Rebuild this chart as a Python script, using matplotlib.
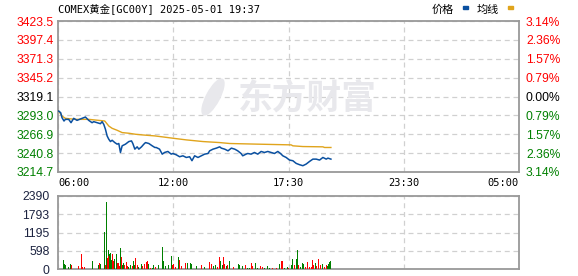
import numpy as np
import matplotlib
matplotlib.use("Agg")
import matplotlib.pyplot as plt
from matplotlib.patches import Rectangle, Ellipse

# price (minutes after 06:00)
price_min = [0, 2, 8, 12, 18, 22, 32, 39, 47, 57,
             72, 82, 92, 102, 107, 117, 127, 132, 137, 142,
             147, 152, 157, 162, 170, 177, 182, 187, 192, 202,
             212, 220, 224, 230, 237, 242, 250, 257, 262, 272,
             282, 290, 294, 304, 312, 319, 329, 339, 344, 354,
             364, 374, 384, 394, 401, 409, 419, 429, 439, 449,
             454, 464, 474, 484, 489, 499, 509, 519, 529, 538,
             548, 553, 563, 568, 578, 588, 598, 608, 618, 628,
             638, 648, 658, 666, 673, 683, 693, 703, 713, 723,
             733, 743, 753, 763, 773, 783, 793, 803, 808, 817]
price = [3299.0, 3299.0, 3296.7, 3289.8, 3285.2, 3287.5, 3287.5, 3282.9, 3288.9, 3286.1,
         3288.9, 3290.7, 3286.1, 3282.9, 3284.3, 3282.9, 3281.5, 3284.3, 3280.6, 3273.8,
         3264.6, 3260.0, 3256.8, 3258.6, 3255.4, 3253.2, 3254.1, 3241.7, 3250.9, 3253.2,
         3256.8, 3257.7, 3254.1, 3246.3, 3249.5, 3246.3, 3249.5, 3253.2, 3255.4, 3254.1,
         3250.9, 3248.6, 3248.6, 3246.3, 3239.4, 3241.7, 3243.1, 3239.4, 3240.3, 3238.5,
         3235.8, 3237.1, 3234.8, 3235.8, 3230.3, 3237.1, 3234.8, 3237.1, 3239.4, 3240.3,
         3244.0, 3246.3, 3247.7, 3249.5, 3247.7, 3246.3, 3244.0, 3247.7, 3246.3, 3244.0,
         3240.3, 3237.1, 3239.4, 3240.3, 3239.4, 3241.7, 3239.4, 3243.1, 3241.7, 3243.1,
         3241.7, 3240.3, 3243.1, 3240.3, 3237.1, 3234.8, 3231.2, 3230.3, 3226.6, 3224.8,
         3223.4, 3225.7, 3229.3, 3232.5, 3232.5, 3231.2, 3234.8, 3232.5, 3233.9, 3232.5]

# average line
avg_min = [0, 2, 12, 22, 52, 92, 122, 140, 152, 162,
           177, 192, 212, 232, 252, 290, 314, 344, 384, 434,
           484, 514, 598, 698, 703, 733, 793, 798, 817]
avg = [3299.0, 3299.0, 3292.1, 3288.9, 3287.5, 3287.5, 3286.1, 3285.2, 3278.3, 3275.1,
       3272.4, 3269.2, 3268.3, 3266.9, 3266.0, 3264.6, 3263.2, 3261.4, 3259.1, 3256.8,
       3255.4, 3254.1, 3253.2, 3252.2, 3250.9, 3249.9, 3249.5, 3248.6, 3248.6]

# volume
vol_min = [12, 16, 20, 22, 32, 37, 40, 62, 70, 74,
           80, 102, 122, 125, 128, 140, 142, 145, 147, 150,
           152, 155, 158, 161, 164, 167, 170, 174, 177, 180,
           184, 187, 190, 194, 197, 200, 204, 207, 212, 217,
           222, 227, 230, 232, 237, 242, 250, 254, 260, 264,
           267, 272, 277, 282, 287, 292, 302, 312, 315, 322,
           330, 340, 344, 347, 352, 360, 364, 370, 377, 382,
           387, 392, 397, 400, 404, 410, 414, 422, 429, 439,
           446, 449, 454, 459, 466, 471, 477, 484, 487, 492,
           496, 499, 504, 508, 513, 518, 526, 533, 540, 543,
           548, 553, 560, 566, 573, 578, 583, 591, 598, 606,
           611, 618, 626, 633, 643, 653, 663, 668, 672, 678,
           686, 691, 698, 703, 708, 713, 716, 720, 726, 733,
           736, 741, 748, 753, 758, 763, 766, 770, 775, 781,
           785, 793, 798, 803, 808, 811, 813, 816]
vol = [356, 302, 162, 140, 65, 173, 140, 108, 486, 65,
       65, 248, 140, 194, 151, 1199, 140, 2203, 356, 626,
       432, 486, 540, 302, 486, 248, 324, 486, 194, 194,
       108, 680, 378, 140, 194, 119, 227, 86, 65, 140,
       86, 248, 140, 356, 140, 65, 162, 108, 173, 227,
       270, 162, 32, 32, 140, 65, 140, 734, 248, 86,
       140, 410, 140, 173, 65, 389, 302, 86, 65, 194,
       194, 194, 194, 162, 486, 86, 86, 140, 140, 65,
       119, 140, 227, 173, 86, 140, 65, 389, 270, 140,
       389, 162, 108, 140, 259, 65, 65, 86, 162, 140,
       162, 108, 140, 43, 32, 194, 86, 194, 32, 108,
       65, 32, 108, 32, 32, 32, 173, 259, 259, 32,
       65, 32, 140, 324, 140, 335, 626, 140, 65, 194,
       173, 54, 227, 65, 65, 302, 140, 194, 86, 324,
       140, 162, 65, 140, 86, 173, 216, 259]
vol_dir = list("ggggggrrrr" "rggrggrgrg" "rgggrrggrr" "rgrggrrrgg" "rggrrggrrr"
               "rgrggrgggg" "ggrrrgrrrr" "grggrrgrrg" "ggrrggrrgg" "rrgrgrrggg"
               "rgrggrrggr" "rgggrrgrrg" "grggrggrgg" "grrrrrrgrr" "rgrrgggg")

prev_close = 3319.1
price_ticks = [3214.7, 3240.8, 3266.9, 3293.0, 3319.1, 3345.2, 3371.3, 3397.4, 3423.5]
pct_labels = ["3.14%", "2.36%", "1.57%", "0.79%", "0.00%", "0.79%", "1.57%", "2.36%", "3.14%"]
vol_ticks = [0, 598, 1195, 1793, 2390]
time_ticks = [0, 345, 690, 1035, 1380]
time_labels = ["06:00", "12:00", "17:30", "23:30", "05:00"]

RED = "#ff0000"
GREEN = "#008000"
GRID = "#d0d0d0"
SPINE = "#999999"
W, H = 578, 276

fig = plt.figure(figsize=(W / 100, H / 100), dpi=100)
ax = fig.add_axes([58 / W, 1 - 172 / H, 461 / W, 151 / H])
axv = fig.add_axes([58 / W, 1 - 269 / H, 461 / W, 73 / H])

num_font = dict(family="Liberation Sans", size=8.7)

for a in (ax, axv):
    for s in a.spines.values():
        s.set_color(SPINE)
        s.set_linewidth(1.3)
    a.set_xlim(0, 1380)
    a.set_xticks(time_ticks)
    a.tick_params(length=0)
    a.grid(True, color=GRID, linestyle=(0, (4, 3)), linewidth=0.9)
    a.set_axisbelow(True)

# watermark
fig.text(238 / W, 1 - 98 / H, "东方财富", family="Noto Sans CJK SC", weight="bold",
         size=25, color="#e8e8ec", va="center", ha="left", zorder=0)
fig.patches.append(Ellipse((213, H - 97), 13, 40, angle=-28, color="#e8e8ec",
                           transform=None, zorder=0))

# price panel
ax.plot(avg_min, avg, color="#e0a41c", lw=1.0, zorder=3)
ax.plot(price_min, price, color="#0a50a0", lw=1.1, zorder=4)
ax.set_ylim(price_ticks[0], price_ticks[-1])
ax.set_yticks(price_ticks)
ax.set_yticklabels([f"{v:.1f}" for v in price_ticks], **num_font)
ax.tick_params(axis="y", pad=3)
for lab, v in zip(ax.get_yticklabels(), price_ticks):
    lab.set_color(RED if v > prev_close else (GREEN if v < prev_close else "black"))

ax.set_xticklabels(time_labels, family="DejaVu Sans Mono", size=7.5)
ax.tick_params(axis="x", pad=4)
xl = ax.get_xticklabels()
xl[0].set_ha("left")
xl[-1].set_ha("right")

ax2 = ax.twinx()
ax2.set_ylim(ax.get_ylim())
ax2.set_yticks(price_ticks)
ax2.set_yticklabels(pct_labels, **num_font)
ax2.tick_params(length=0, pad=5)
for lab, v in zip(ax2.get_yticklabels(), price_ticks):
    lab.set_color(RED if v > prev_close else (GREEN if v < prev_close else "black"))
for s in ax2.spines.values():
    s.set_visible(False)

# volume panel
colors = [RED if c == "r" else GREEN for c in vol_dir]
axv.bar(vol_min, vol, width=2.6, color=colors, linewidth=0, zorder=3)
axv.set_ylim(0, 2390)
axv.set_yticks(vol_ticks)
axv.set_yticklabels([str(v) for v in vol_ticks], color="#1c2340", **num_font)
axv.tick_params(axis="y", pad=6)
axv.set_xticklabels([])

# title and legend
fig.text(58 / W, 1 - 9 / H, "COMEX黄金[GC00Y] 2025-05-01 19:37",
         family=["DejaVu Sans Mono", "Noto Sans CJK SC"], size=7.5, va="center")
fig.text(432 / W, 1 - 10 / H, "价格", family="Noto Sans CJK SC", size=8, va="center")
fig.text(477 / W, 1 - 10 / H, "均线", family="Noto Sans CJK SC", size=8, va="center")
fig.patches.append(Rectangle((463 / W, 1 - 9 / H), 5 / W, 2.5 / H, color="#0a50a0",
                             transform=fig.transFigure))
fig.patches.append(Rectangle((508 / W, 1 - 9 / H), 5 / W, 2.5 / H, color="#e0a41c",
                             transform=fig.transFigure))

fig.savefig("out.png", dpi=100)
